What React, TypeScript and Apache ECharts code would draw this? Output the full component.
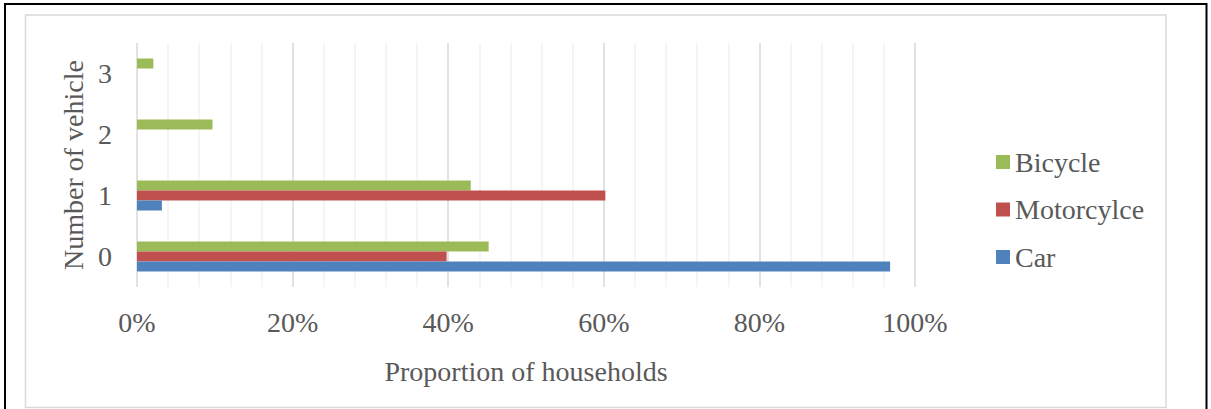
import React, { useEffect, useRef } from "react";
import * as echarts from "echarts";

// Number of vehicles owned per household (category axis, bottom to top)
const vehicleCounts = ["0", "1", "2", "3"];

// Share of households (%) for each vehicle type at each count
const bicycleShare = [45.2, 42.9, 9.7, 2.1];
const motorcycleShare = [39.8, 60.2, null, null];
const carShare = [96.8, 3.2, null, null];

const legendNames = ["Bicycle", "Motorcylce", "Car"];
const colors = { bicycle: "#9BBB59", motorcycle: "#C0504D", car: "#4F81BD" };

const FONT = "'Liberation Serif', 'Times New Roman', serif";
const TEXT = "#595959";

export default function App() {
  const ref = useRef<HTMLDivElement>(null);

  useEffect(() => {
    document.body.style.margin = "0";
    if (!ref.current) return;
    const chart = echarts.init(ref.current, undefined, { renderer: "svg" });

    const barSeries = (name: string, data: (number | null)[], color: string) => ({
      name,
      type: "bar",
      data,
      barWidth: 10,
      barGap: "0%",
      itemStyle: { color },
    });

    chart.setOption({
      animation: false,
      backgroundColor: "#ffffff",
      textStyle: { fontFamily: FONT },
      graphic: [
        {
          type: "rect",
          shape: { x: 5, y: 4, width: 1201.5, height: 430 },
          style: { fill: "none", stroke: "#000000", lineWidth: 2 },
          silent: true,
        },
        {
          type: "rect",
          shape: { x: 25.5, y: 15, width: 1140.5, height: 392.5 },
          style: { fill: "none", stroke: "#d9d9d9", lineWidth: 1.5 },
          silent: true,
        },
      ],
      grid: { left: 137, right: 296, top: 43, bottom: 122, containLabel: false },
      legend: {
        orient: "vertical",
        left: 991,
        top: 143,
        data: legendNames,
        itemWidth: 14,
        itemHeight: 14,
        itemGap: 19.5,
        icon: "rect",
        textStyle: { fontFamily: FONT, fontSize: 28, color: TEXT, lineHeight: 28 },
      },
      xAxis: {
        type: "value",
        min: 0,
        max: 100,
        interval: 20,
        name: "Proportion of households",
        nameLocation: "middle",
        nameGap: 70,
        nameTextStyle: { fontFamily: FONT, fontSize: 28, color: TEXT },
        axisLine: { show: false },
        axisTick: { show: false },
        axisLabel: {
          formatter: "{value}%",
          fontFamily: FONT,
          fontSize: 28,
          color: TEXT,
          margin: 21,
        },
        splitLine: { show: true, lineStyle: { color: "#d9d9d9", width: 1.5 } },
        minorTick: { show: false, splitNumber: 5 },
        minorSplitLine: { show: true, lineStyle: { color: "#f2f2f2", width: 1.5 } },
      },
      yAxis: {
        type: "category",
        data: vehicleCounts,
        name: "Number of vehicle",
        nameLocation: "middle",
        nameGap: 47,
        nameTextStyle: { fontFamily: FONT, fontSize: 28, color: TEXT },
        axisLine: { show: false },
        axisTick: { show: false },
        axisLabel: { fontFamily: FONT, fontSize: 28, color: TEXT, margin: 25 },
        splitLine: { show: false },
      },
      series: [
        barSeries("Bicycle", bicycleShare, colors.bicycle),
        barSeries("Motorcylce", motorcycleShare, colors.motorcycle),
        barSeries("Car", carShare, colors.car),
      ],
    });

    return () => chart.dispose();
  }, []);

  return <div ref={ref} style={{ width: 1211, height: 409 }} />;
}
